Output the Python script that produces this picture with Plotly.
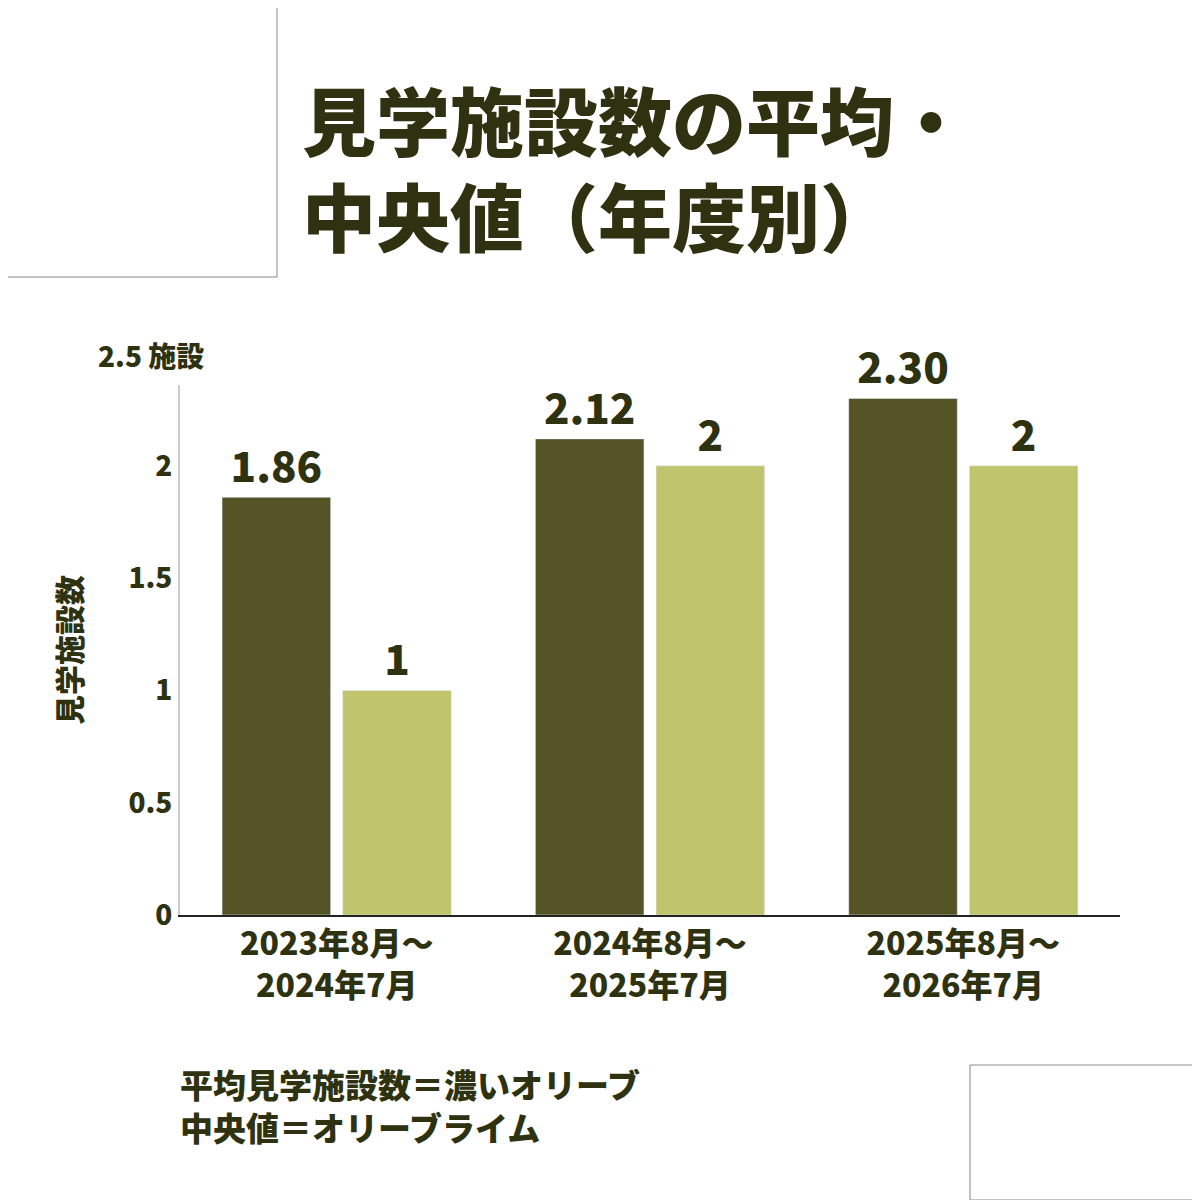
import plotly.graph_objects as go

categories = ["2023年8月～<br>2024年7月", "2024年8月～<br>2025年7月", "2025年8月～<br>2026年7月"]
mean_vals = [1.86, 2.12, 2.30]
mean_labels = ["1.86", "2.12", "2.30"]
median_vals = [1, 2, 2]
median_labels = ["1", "2", "2"]
ytick_vals = [0, 0.5, 1, 1.5, 2]
ytick_text = ["0", "0.5", "1", "1.5", "2"]

DARK = "#545426"
LIGHT = "#C0C46C"
TXT = "#2E3210"
F = "Noto Sans CJK JP"

fig = go.Figure()
fig.add_bar(x=categories, y=mean_vals, text=mean_labels, marker_color=DARK,
            textposition="outside", cliponaxis=False,
            textfont=dict(size=42, color=TXT, family=F, weight=900))
fig.add_bar(x=categories, y=median_vals, text=median_labels, marker_color=LIGHT,
            textposition="outside", cliponaxis=False,
            textfont=dict(size=42, color=TXT, family=F, weight=900))

def px(x):
    return (x - 8 - 172) / 940

def py(y):
    return (907 - (y - 8)) / 530

fig.update_layout(
    width=1200, height=1200, paper_bgcolor="white", plot_bgcolor="white",
    margin=dict(l=172, r=88, t=377, b=293), showlegend=False,
    bargap=0.23, bargroupgap=0.1,
    font=dict(family=F, color=TXT),
    xaxis=dict(showline=True, linecolor="#222222", linewidth=2, ticks="",
               tickfont=dict(size=32, family=F, color=TXT, weight=900)),
    yaxis=dict(range=[0, 2.36], showgrid=False, showline=True, linecolor="#cccccc",
               linewidth=2, tickvals=ytick_vals, ticktext=ytick_text, ticks="",
               tickfont=dict(size=28, family=F, color=TXT, weight=900), zeroline=False,
               title=dict(text="見学施設数", standoff=38,
                          font=dict(size=30, family=F, color=TXT, weight=900))),
    shapes=[
        dict(type="rect", xref="paper", yref="paper", x0=px(0), x1=px(277),
             y0=py(277), y1=py(0), line=dict(color="#888888", width=1)),
        dict(type="rect", xref="paper", yref="paper", x0=px(970), x1=px(1200),
             y0=py(1200), y1=py(1065), line=dict(color="#888888", width=1)),
    ],
    annotations=[
        dict(text="見学施設数の平均・<br>中央値（年度別）", xref="paper", yref="paper",
             x=px(300), y=py(62), xanchor="left", yanchor="top", showarrow=False,
             align="left", font=dict(size=74, family=F, color=TXT, weight=900)),
        dict(text="2.5 施設", xref="paper", yref="paper", x=px(96), y=py(355),
             xanchor="left", yanchor="middle", showarrow=False,
             font=dict(size=28, family=F, color=TXT, weight=900)),
        dict(text="平均見学施設数＝濃いオリーブ<br>中央値＝オリーブライム", xref="paper", yref="paper",
             x=px(178), y=py(1058), xanchor="left", yanchor="top", showarrow=False,
             align="left", font=dict(size=33, family=F, color=TXT, weight=900)),
    ],
)
fig.write_html("out.html")
